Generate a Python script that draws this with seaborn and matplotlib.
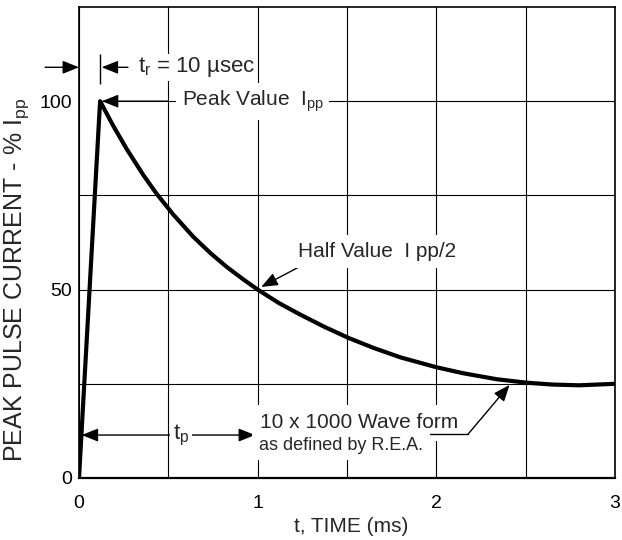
import matplotlib
matplotlib.use('Agg')
import matplotlib.pyplot as plt
import seaborn as sns

# waveform (t in ms, current in % of Ipp)
time_ms = [0.0, 0.118, 0.19, 0.267, 0.36, 0.435, 0.528, 0.64, 0.74, 0.83,
           0.92, 1.0, 1.12, 1.237, 1.37, 1.507, 1.65, 1.8, 2.0, 2.15,
           2.34, 2.505, 2.65, 2.8, 3.0]
current_pct = [0, 100, 93.6, 87.3, 80.4, 75.4, 69.9, 64.0, 59.5, 55.9,
               52.7, 50.0, 46.4, 43.4, 40.2, 37.2, 34.5, 32.0, 29.4, 27.8,
               26.2, 25.3, 24.8, 24.6, 25.0]

x_ticks = [0, 1, 2, 3]
x_minor = [0.5, 1.5, 2.5]
y_ticks = [0, 50, 100]
y_minor = [25, 75]

peak_t = time_ms[1]
peak_v = current_pct[1]

sns.set_style('white')
plt.rcParams['font.family'] = ['Liberation Sans', 'DejaVu Sans']
plt.rcParams['mathtext.fontset'] = 'custom'
plt.rcParams['mathtext.rm'] = 'Liberation Sans'
plt.rcParams['mathtext.default'] = 'rm'

fig = plt.figure(figsize=(6.22, 5.4), dpi=100)
ax = fig.add_axes([79 / 622, 62 / 540, 536 / 622, 471 / 540])

# grid
ax.set_xticks(x_ticks)
ax.set_xticks(x_minor, minor=True)
ax.set_yticks(y_ticks)
ax.set_yticks(y_minor, minor=True)
ax.grid(axis='x', which='both', color='black', lw=0.8, zorder=1)
ax.grid(axis='y', which='minor', color='black', lw=0.8, zorder=1)
ax.axhline(50, color='black', lw=0.8, zorder=1)
ax.hlines(100, peak_t, 3, color='black', lw=0.8, zorder=1)

sns.lineplot(x=time_ms, y=current_pct, estimator=None, sort=False,
             color='black', linewidth=3, ax=ax, zorder=4)
ax.lines[-1].set_solid_joinstyle('round')

ax.set_xlim(0, 3)
ax.set_ylim(0, 125)
ax.tick_params(which='both', length=0, labelsize=14, colors='black')
ax.tick_params(axis='x', pad=12)
ax.tick_params(axis='y', pad=5)
for s in ax.spines.values():
    s.set_color('black')
    s.set_linewidth(1.2)
ax.spines['bottom'].set_linewidth(1.6)

ax.set_xlabel('t, TIME (ms)', fontsize=15)
ax.xaxis.set_label_coords(0.507, -0.104)
ax.xaxis.label.set_va('center')
ax.set_ylabel('PEAK PULSE CURRENT - % I$_{pp}$', fontsize=18)
ax.yaxis.set_label_coords(-0.116, 0.42)
ax.yaxis.label.set_va('center')

arrow = dict(arrowstyle='-|>,head_length=1.0,head_width=0.4', mutation_scale=10,
             color='black', lw=1, shrinkA=0, shrinkB=0)
box = dict(fc='white', ec='none', pad=1)

# rise time marker
ax.annotate('', xy=(0, 109), xytext=(-0.19, 109), arrowprops=arrow,
            annotation_clip=False)
ax.vlines(peak_t, 104.5, 112.5, color='black', lw=1, zorder=5)
ax.annotate('', xy=(0.127, 109), xytext=(0.274, 109), arrowprops=arrow)
ax.text(0.33, 109, 't$_{r}$ = 10 µsec', fontsize=16, va='center', ha='left',
        bbox=box, zorder=3)

# peak value
ax.annotate('', xy=(peak_t + 0.01, peak_v), xytext=(0.5, peak_v), arrowprops=arrow)
ax.text(0.575, 100, 'Peak Value  I$_{pp}$', fontsize=15, va='center', ha='left',
        bbox=dict(fc='white', ec='none', pad=4), zorder=3)

# half value
ax.annotate('', xy=(1.02, 50.7), xytext=(1.255, 56.6), arrowprops=arrow)
ax.text(1.225, 60.1, 'Half Value  I pp/2', fontsize=15, va='center', ha='left',
        bbox=dict(fc='white', ec='none', pad=5), zorder=3)

# pulse width
ax.annotate('', xy=(0.015, 11.4), xytext=(0.985, 11.4),
            arrowprops=dict(arrow, arrowstyle='<|-|>,head_length=1.0,head_width=0.4'))
ax.text(0.571, 11.4, 't$_{p}$', fontsize=16, va='center', ha='center',
        bbox=dict(fc='white', ec='none', pad=2), zorder=3)

# waveform label
ax.text(1.013, 14.6, '10 x 1000 Wave form', fontsize=15, va='center', ha='left',
        bbox=dict(fc='white', ec='none', pad=6), zorder=3)
ax.text(1.005, 8.5, 'as defined by R.E.A.', fontsize=13, va='center', ha='left',
        bbox=dict(fc='white', ec='none', pad=4), zorder=3)
ax.plot([1.964, 2.177], [11.6, 11.6], color='black', lw=1, zorder=5)
ax.annotate('', xy=(2.41, 24.7), xytext=(2.177, 11.6), arrowprops=arrow, zorder=5)

fig.savefig('out.png', dpi=100)
